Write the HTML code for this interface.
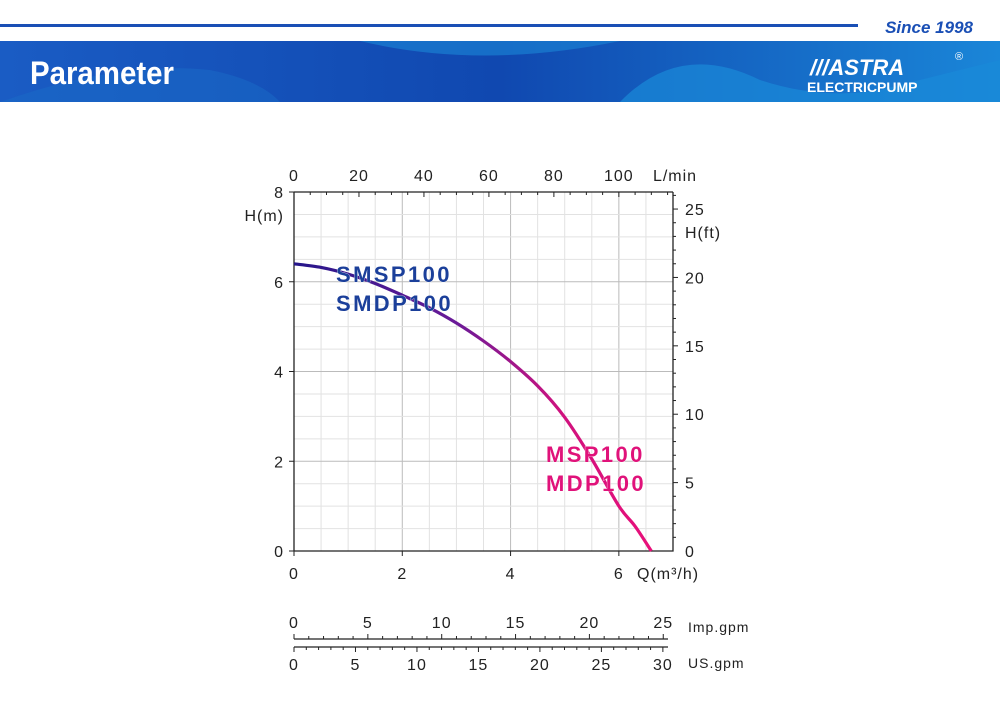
<!DOCTYPE html>
<html><head><meta charset="utf-8"><style>
body{margin:0;width:1000px;height:702px;background:#fff;overflow:hidden;font-family:"Liberation Sans",sans-serif}
</style></head><body>
<svg width="1000" height="702" xmlns="http://www.w3.org/2000/svg">
<defs>
<linearGradient id="hdr" x1="0" x2="1" y1="0" y2="0"><stop offset="0" stop-color="#1a5cc4"/><stop offset="0.5" stop-color="#1048b0"/><stop offset="1" stop-color="#1a86d8"/></linearGradient>
<linearGradient id="cg" gradientUnits="userSpaceOnUse" x1="294" y1="0" x2="652" y2="0"><stop offset="0" stop-color="#25168a"/><stop offset="0.45" stop-color="#6a1a98"/><stop offset="0.75" stop-color="#d0127e"/><stop offset="1" stop-color="#e8107a"/></linearGradient>
</defs>
<g>
<rect x="0" y="24" width="858" height="3" fill="#1a4fb5"/>
<text x="973" y="33" text-anchor="end" font-size="17" font-weight="bold" font-style="italic" fill="#1a4fb5">Since 1998</text>
<rect x="0" y="41" width="1000" height="61" fill="url(#hdr)"/>
<path d="M360 41 Q480 70 620 41 Z" fill="#1a7fd2" opacity="0.7"/>
<path d="M0 102 Q120 60 210 70 Q260 80 280 102 Z" fill="#1a6cc8" opacity="0.5"/>
<path d="M620 102 Q680 40 760 80 Q820 100 880 90 L1000 60 L1000 102 Z" fill="#1a8ad8" opacity="0.7"/>
<text x="30" y="84" font-size="32" font-weight="bold" fill="#fff" transform="translate(30 84) scale(0.92 1) translate(-30 -84)">Parameter</text>
<text x="810" y="75" font-size="22" font-weight="bold" font-style="italic" fill="#fff">///ASTRA</text>
<text x="955" y="60" font-size="11" fill="#fff">®</text>
<text x="807" y="92" font-size="14" font-weight="bold" fill="#fff">ELECTRICPUMP</text>
</g>
<g id="chart"></g>
</svg>
<script>
const qValues=[0,0.5,1,1.5,2,2.5,3,3.5,4,4.5,5,5.5,6,6.3,6.6];
const hValues=[6.4,6.32,6.17,5.96,5.7,5.42,5.08,4.68,4.22,3.68,2.98,2.05,1.0,0.55,0];
const qTicks=[0,2,4,6];
const hTicks=[0,2,4,6,8];
const lminTicks=[0,20,40,60,80,100];
const ftTicks=[0,5,10,15,20,25];
const impTicks=[0,5,10,15,20,25];
const usTicks=[0,5,10,15,20,25,30];
(function(){
const NS="http://www.w3.org/2000/svg";
const g=document.getElementById('chart');
const X0=294,X1=673,Y0=551,Y1=192,QMAX=7,HMAX=8;
const xs=q=>X0+q/QMAX*(X1-X0);
const ys=h=>Y0-h/HMAX*(Y0-Y1);
function el(t,a,txt){const e=document.createElementNS(NS,t);for(const k in a)e.setAttribute(k,a[k]);if(txt!==undefined)e.textContent=txt;g.appendChild(e);return e;}
function tx(x,y,s,anchor,size,name){const e=el('text',{x:x,y:y,'text-anchor':anchor||'middle','font-size':size||16,fill:'#222','letter-spacing':1},s);

return e;}
for(let q=0.5;q<QMAX;q+=0.5){const l=el('line',{x1:xs(q),x2:xs(q),y1:Y1,y2:Y0,stroke:(q%2===0)?'#bbb':'#e2e2e2','stroke-width':1});

}
for(let h=0.5;h<HMAX;h+=0.5){const l=el('line',{x1:X0,x2:X1,y1:ys(h),y2:ys(h),stroke:(h%2===0)?'#bbb':'#e2e2e2','stroke-width':1});

}
const ax=el('path',{d:`M${X0} ${Y1}V${Y0}H${X1}V${Y1}`,fill:'none',stroke:'#222','stroke-width':1.3});


const topAxis=el('line',{x1:X0,x2:X1,y1:Y1,y2:Y1,stroke:'#222','stroke-width':1.3});


qTicks.forEach(q=>{el('line',{x1:xs(q),x2:xs(q),y1:Y0,y2:Y0+5,stroke:'#222'});tx(xs(q),Y0+28,q,'middle',16,'x-tick-label');});
tx(X1-36,Y0+28,'Q(m³/h)','start',16,'x-axis-title');
hTicks.forEach(h=>{el('line',{x1:X0-5,x2:X0,y1:ys(h),y2:ys(h),stroke:'#222'});tx(X0-10,ys(h)+6,h,'end',16,'y-tick-label');});
tx(X0-10,221,'H(m)','end',16,'y-axis-title');
for(let l=0;l<=115;l+=5){const x=xs(l/1000*60);if(x>X1)break;el('line',{x1:x,x2:x,y1:Y1,y2:Y1+(l%20===0?5:3),stroke:'#222'});}
lminTicks.forEach(l=>tx(xs(l*60/1000),181,l,'middle',16,'top-tick-label'));
tx(X1+2,181,'L/min','middle',16,'top-axis-title');
const ftm=0.3048;
for(let f=1;f<=26;f++){el('line',{x1:X1,x2:X1+(f%5===0?5:3),y1:ys(f*ftm),y2:ys(f*ftm),stroke:'#222'});}
ftTicks.forEach(f=>tx(X1+12,ys(f*ftm)+6,f,'start',16,'right-tick-label'));
tx(X1+12,238,'H(ft)','start',16,'right-axis-title');
const P=qValues.map((q,i)=>[xs(q),ys(hValues[i])]);
let d='M'+P[0][0].toFixed(1)+' '+P[0][1].toFixed(1);
for(let i=0;i<P.length-1;i++){const p0=P[Math.max(0,i-1)],p1=P[i],p2=P[i+1],p3=P[Math.min(P.length-1,i+2)];
const c1=[p1[0]+(p2[0]-p0[0])/6,p1[1]+(p2[1]-p0[1])/6],c2=[p2[0]-(p3[0]-p1[0])/6,p2[1]-(p3[1]-p1[1])/6];
d+=`C${c1[0].toFixed(1)} ${c1[1].toFixed(1)} ${c2[0].toFixed(1)} ${c2[1].toFixed(1)} ${p2[0].toFixed(1)} ${p2[1].toFixed(1)}`;}
const c=el('path',{d:d,fill:'none',stroke:'url(#cg)','stroke-width':3.2,'stroke-linejoin':'round'});


[['SMSP100',336,282,'#1b3f9a'],['SMDP100',336,311,'#1b3f9a'],['MSP100',546,462,'#e0127a'],['MDP100',546,491,'#e0127a']].forEach(a=>{
const t=el('text',{x:a[1],y:a[2],'font-size':22,'font-weight':'bold','letter-spacing':2.4,fill:a[3],stroke:'#fff','stroke-width':0.6,'paint-order':'stroke'},a[0]);

});
const impM=0.2728,usM=0.2271,GX1=666;
const ge=(v,m)=>X0+v*m/QMAX*(X1-X0);
const l1=el('line',{x1:X0,x2:GX1+2,y1:639,y2:639,stroke:'#222','stroke-width':1.2});


const l2=el('line',{x1:X0,x2:GX1+2,y1:647,y2:647,stroke:'#222','stroke-width':1.2});


for(let v=0;v<=25;v++)el('line',{x1:ge(v,impM),x2:ge(v,impM),y1:639,y2:v%5===0?634:636,stroke:'#222'});
for(let v=0;v<=30;v++)el('line',{x1:ge(v,usM),x2:ge(v,usM),y1:647,y2:v%5===0?652:650,stroke:'#222'});
impTicks.forEach(v=>tx(ge(v,impM),628,v,'middle',16,'imp-tick-label'));
usTicks.forEach(v=>tx(ge(v,usM),670,v,'middle',16,'us-tick-label'));
tx(688,632,'Imp.gpm','start',14,'imp-gpm-title');
tx(688,668,'US.gpm','start',14,'us-gpm-title');
})();
</script>
</body></html>
